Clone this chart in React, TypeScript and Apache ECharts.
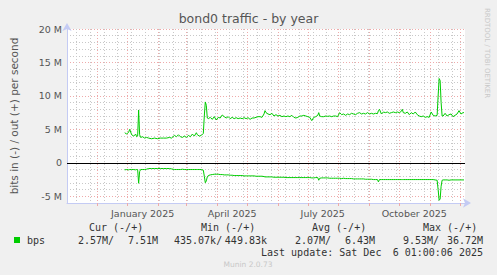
import React, { useEffect, useRef } from "react";
import * as echarts from "echarts";

// ---- categories: one per day, 2024-11-01 .. 2025-12-06 ----
const START_DATE = "2024-11-01";
const DAY_COUNT = 401;
const CATEGORIES: string[] = [];
{
  const t0 = Date.parse(START_DATE + "T00:00:00Z");
  for (let i = 0; i < DAY_COUNT; i++) {
    CATEGORIES.push(new Date(t0 + i * 86400000).toISOString().slice(0, 10));
  }
}

// ---- x tick labels (centred mid-month) ----
const X_LABEL_DATES = ["2025-01-16", "2025-04-16", "2025-07-16", "2025-10-16"];
const X_LABEL_TEXTS = ["January 2025", "April 2025", "July 2025", "October 2025"];

// ---- major (month) and minor (two-week) vertical grid dates ----
const MONTH_STARTS = [
  "2024-12-01", "2025-01-01", "2025-02-01", "2025-03-01", "2025-04-01", "2025-05-01",
  "2025-06-01", "2025-07-01", "2025-08-01", "2025-09-01", "2025-10-01", "2025-11-01", "2025-12-01",
];
const TWO_WEEKS = [
  "2024-11-10", "2024-11-24", "2024-12-08", "2024-12-22", "2025-01-05", "2025-01-19",
  "2025-02-02", "2025-02-16", "2025-03-02", "2025-03-16", "2025-03-30", "2025-04-13",
  "2025-04-27", "2025-05-11", "2025-05-25", "2025-06-08", "2025-06-22", "2025-07-06",
  "2025-07-20", "2025-08-03", "2025-08-17", "2025-08-31", "2025-09-14", "2025-09-28",
  "2025-10-12", "2025-10-26", "2025-11-09", "2025-11-23",
];

// ---- series: day offset (index into CATEGORIES), out (+) and in (-) in Mbit/s ----
const DATA_DAYS = [
  58, 60, 62, 63, 65, 67, 69, 70, 71, 72, 73, 74, 76, 78, 80, 82, 85, 88, 91, 94, 97, 100, 103, 105,
  108, 110, 112, 114, 116, 118, 120, 122, 124, 126, 128, 130, 131, 133, 135, 137, 138, 139, 140, 141,
  142, 144, 146, 148, 150, 152, 154, 156, 158, 160, 162, 164, 166, 168, 170, 172, 174, 176, 178, 180,
  182, 184, 186, 188, 190, 192, 194, 196, 198, 199, 200, 202, 204, 206, 208, 210, 212, 214, 216, 218,
  220, 222, 224, 226, 228, 230, 232, 234, 236, 238, 240, 242, 244, 246, 248, 250, 252, 253, 254, 256,
  258, 260, 262, 264, 266, 268, 270, 272, 274, 276, 278, 280, 282, 284, 286, 288, 290, 292, 294, 296,
  298, 300, 302, 304, 306, 308, 310, 312, 313, 314, 316, 318, 320, 322, 324, 326, 328, 330, 332, 334,
  336, 337, 338, 340, 342, 344, 346, 348, 350, 352, 354, 356, 358, 360, 362, 364, 366, 368, 370, 372,
  373, 374, 375, 376, 377, 378, 380, 382, 384, 386, 388, 390, 392, 394, 396, 398, 399,
];
const OUT_MBPS = [
  4.5, 4.3, 4.6, 5.0, 4.2, 4.0, 4.3, 3.9, 4.0, 7.9, 4.2, 3.8, 3.9, 3.7, 3.8, 3.7, 3.6, 3.7, 3.6, 3.7, 3.7, 3.7, 3.8, 3.7,
  4.1, 3.9, 4.2, 3.9, 3.8, 4.0, 3.8, 4.1, 3.9, 4.3, 4.0, 4.5, 4.2, 4.0, 4.1, 4.4, 7.0, 9.1, 8.6, 6.7,
  6.6, 6.8, 6.5, 6.9, 6.4, 6.8, 6.7, 7.15, 6.9, 6.7, 6.9, 6.6, 6.8, 6.6, 6.75, 6.6, 6.7, 6.6, 6.75, 6.6,
  6.75, 6.5, 6.7, 6.7, 6.8, 6.9, 6.9, 6.8, 7.3, 7.8, 7.5, 7.3, 7.2, 7.4, 7.0, 7.2, 7.0, 7.1, 6.9, 7.0,
  6.9, 7.0, 6.9, 7.1, 6.8, 6.7, 6.8, 7.0, 7.0, 7.1, 7.0, 6.9, 6.8, 6.3, 6.8, 6.9, 7.1, 7.5, 7.0, 6.9,
  6.9, 7.0, 6.95, 7.0, 6.9, 7.0, 7.0, 6.9, 7.5, 7.2, 7.3, 7.1, 7.3, 7.2, 7.4, 7.3, 7.2, 7.4, 7.5, 7.3,
  7.4, 7.3, 7.5, 7.3, 7.4, 7.3, 7.4, 7.35, 7.8, 8.0, 7.3, 7.6, 7.5, 7.6, 7.4, 7.5, 7.6, 7.5, 7.6, 7.5,
  7.7, 8.0, 7.5, 7.4, 7.6, 7.2, 7.5, 7.3, 7.6, 7.2, 7.0, 6.9, 7.0, 6.8, 6.9, 6.8, 7.6, 7.1, 7.0, 7.1,
  10.0, 12.6, 12.3, 9.0, 7.0, 7.0, 7.4, 7.0, 7.2, 7.3, 6.9, 7.1, 7.3, 7.8, 7.3, 7.5, 7.5,
];
const IN_MBPS = [
  -1.05, -1.0, -1.05, -1.0, -1.0, -1.0, -1.05, -1.0, -1.0, -3.05, -1.3, -1.0, -1.0, -1.0, -0.95, -0.85, -0.85, -0.85, -0.85, -0.85, -0.85, -0.85, -0.85, -0.9,
  -1.0, -1.0, -1.0, -1.0, -0.95, -1.0, -1.0, -1.0, -1.0, -1.0, -1.0, -1.0, -1.0, -1.0, -1.0, -1.1, -2.0, -2.97, -2.7, -2.1,
  -1.9, -1.8, -1.75, -1.7, -1.7, -1.7, -1.75, -1.75, -1.8, -1.8, -1.8, -1.85, -1.85, -1.9, -1.9, -1.9, -1.9, -1.9, -1.95, -1.95,
  -1.95, -1.95, -1.95, -1.95, -2.0, -2.0, -2.0, -2.0, -2.05, -2.1, -2.1, -2.1, -2.1, -2.1, -2.15, -2.15, -2.15, -2.15, -2.15, -2.15,
  -2.2, -2.2, -2.2, -2.2, -2.2, -2.2, -2.2, -2.2, -2.2, -2.2, -2.2, -2.2, -2.2, -2.25, -2.25, -2.2, -2.2, -2.6, -2.3, -2.25,
  -2.25, -2.25, -2.25, -2.3, -2.3, -2.3, -2.3, -2.3, -2.3, -2.35, -2.3, -2.35, -2.35, -2.35, -2.35, -2.4, -2.4, -2.4, -2.4, -2.4,
  -2.4, -2.45, -2.45, -2.45, -2.45, -2.5, -2.5, -2.5, -2.85, -2.5, -2.5, -2.5, -2.5, -2.5, -2.5, -2.5, -2.5, -2.5, -2.5, -2.5,
  -2.5, -2.5, -2.5, -2.5, -2.5, -2.5, -2.5, -2.5, -2.5, -2.5, -2.5, -2.5, -2.5, -2.5, -2.5, -2.5, -2.5, -2.5, -2.55, -2.6,
  -4.0, -5.6, -5.4, -3.5, -2.6, -2.55, -2.55, -2.55, -2.6, -2.55, -2.55, -2.55, -2.55, -2.55, -2.55, -2.55, -2.55,
];

// ---- y axis ----
const Y_MIN = -6e6;
const Y_MAX = 20e6;
const Y_MINOR_STEP = 1e6;

// ---- legend texts ----
const TITLE = "bond0 traffic - by year";
const Y_NAME = "bits in (-) / out (+) per second";
const SERIES_NAME = "bps";
const LEGEND_HEADERS = ["Cur (-/+)", "Min (-/+)", "Avg (-/+)", "Max (-/+)"];
const LEGEND_IN = ["2.57M/", "435.07k/", "2.07M/", "9.53M/"];
const LEGEND_OUT = ["7.51M", "449.83k", "6.43M", "36.72M"];
const LAST_UPDATE_A = "Last update: Sat Dec";
const LAST_UPDATE_B = "6 01:00:06 2025";
const WATERMARK = "RRDTOOL / TOBI OETIKER";
const FOOTER = "Munin 2.0.73";

const GREEN = "#00cc00";
const AXIS_BLUE = "#c4cbf4";
const MINOR = "#c8c8c8";
const MAJOR = "#eeaaaa";
const MONO = '"DejaVu Sans Mono", monospace';
const SANS = '"DejaVu Sans", sans-serif';

export default function App() {
  const ref = useRef<HTMLDivElement>(null);
  useEffect(() => {
    if (!ref.current) return;
    const chart = echarts.init(ref.current, undefined, { renderer: "svg" });
    const grid = { left: 65, top: 29, width: 400, height: 174 };
    const monthSet = new Set(MONTH_STARTS);
    const weekSet = new Set(TWO_WEEKS);
    const labelMap: Record<string, string> = {};
    X_LABEL_DATES.forEach((d, i) => (labelMap[d] = X_LABEL_TEXTS[i]));

    const hiddenCat = (extra: any) => ({
      type: "category",
      data: CATEGORIES,
      boundaryGap: false,
      position: "bottom",
      axisLine: { show: false },
      axisLabel: { show: false },
      ...extra,
    });

    const legendCols = [
      { hx: 89, inX: 78, outR: 158 },
      { hx: 201, inX: 174, outR: 267 },
      { hx: 312, inX: 295, outR: 375 },
      { hx: 423, inX: 403, outR: 483 },
    ];
    const txt = (text: string, x: number, y: number, align: string, font: string, fill: string) => ({
      type: "text",
      x,
      y,
      silent: true,
      style: { text, align, verticalAlign: "middle", font, fill },
    });
    const graphics: any[] = [
      { type: "rect", shape: { x: 14, y: 237, width: 6, height: 6 }, style: { fill: GREEN }, silent: true },
      txt(SERIES_NAME, 27, 240, "left", `10px ${MONO}`, "#333"),
      txt(LAST_UPDATE_A, 261, 252, "left", `10px ${MONO}`, "#333"),
      txt(LAST_UPDATE_B, 483, 252, "right", `10px ${MONO}`, "#333"),
      txt(FOOTER, 248, 264, "center", `7.5px ${SANS}`, "#c8c8c8"),
      {
        type: "text",
        x: 487,
        y: 53,
        rotation: -Math.PI / 2,
        silent: true,
        style: { text: WATERMARK, align: "center", verticalAlign: "middle", font: `7px ${SANS}`, fill: "#c8c8c8" },
      },
    ];
    legendCols.forEach((c, i) => {
      graphics.push(txt(LEGEND_HEADERS[i], c.hx, 227, "left", `10px ${MONO}`, "#333"));
      graphics.push(txt(LEGEND_IN[i], c.inX, 240, "left", `10px ${MONO}`, "#333"));
      graphics.push(txt(LEGEND_OUT[i], c.outR, 240, "right", `10px ${MONO}`, "#333"));
    });

    chart.setOption({
      animation: false,
      backgroundColor: "#f0f0f0",
      title: {
        text: TITLE,
        left: "center",
        top: 12,
        padding: 0,
        textStyle: { fontFamily: SANS, fontSize: 12.5, fontWeight: "normal", color: "#555" },
      },
      grid: { ...grid, show: true, backgroundColor: "#ffffff", borderWidth: 0 },
      xAxis: [
        hiddenCat({
          axisTick: { show: true, interval: (_: number, v: string) => weekSet.has(v), length: 2, lineStyle: { color: MINOR } },
          splitLine: { show: true, interval: (_: number, v: string) => weekSet.has(v), lineStyle: { color: MINOR, type: [1, 2], width: 1 } },
        }),
        hiddenCat({
          axisTick: { show: true, interval: (_: number, v: string) => monthSet.has(v), length: 3, lineStyle: { color: MAJOR } },
          splitLine: { show: true, interval: (_: number, v: string) => monthSet.has(v), lineStyle: { color: MAJOR, type: [1, 2], width: 1 } },
        }),
        {
          type: "category",
          data: CATEGORIES,
          boundaryGap: false,
          position: "bottom",
          axisLine: {
            show: true,
            lineStyle: { color: AXIS_BLUE, width: 1 },
            symbol: ["none", "arrow"],
            symbolSize: [7, 8],
            symbolOffset: [0, 6],
          },
          axisTick: { show: false },
          splitLine: { show: false },
          axisLabel: {
            show: true,
            interval: (_: number, v: string) => v in labelMap,
            formatter: (v: string) => labelMap[v] ?? "",
            color: "#555",
            fontFamily: SANS,
            fontSize: 9.5,
            margin: 5,
          },
        },
      ],
      yAxis: {
        type: "value",
        min: Y_MIN,
        max: Y_MAX,
        interval: Y_MINOR_STEP,
        name: Y_NAME,
        nameLocation: "middle",
        nameGap: 48,
        nameTextStyle: { fontFamily: SANS, fontSize: 10.5, color: "#555" },
        axisLine: {
          show: true,
          lineStyle: { color: AXIS_BLUE, width: 1 },
          symbol: ["none", "arrow"],
          symbolSize: [7, 8],
          symbolOffset: [0, 6],
        },
        axisTick: { show: false },
        axisLabel: {
          color: "#555",
          fontFamily: SANS,
          fontSize: 9.5,
          margin: 5,
          formatter: (v: number) => (v % 5e6 === 0 ? (v === 0 ? "0" : `${v / 1e6} M`) : ""),
        },
        splitLine: {
          show: true,
          lineStyle: { color: [MINOR, MAJOR, MINOR, MINOR, MINOR], type: [1, 2], width: 1 },
        },
      },
      series: [
        {
          type: "line",
          name: "out",
          xAxisIndex: 2,
          data: DATA_DAYS.map((d, i) => [CATEGORIES[d], OUT_MBPS[i] * 1e6]),
          showSymbol: false,
          lineStyle: { color: GREEN, width: 1 },
          itemStyle: { color: GREEN },
          markLine: {
            silent: true,
            symbol: "none",
            label: { show: false },
            lineStyle: { color: "#000", type: "solid", width: 1 },
            data: [{ yAxis: 0 }],
          },
          z: 5,
        },
        {
          type: "line",
          name: "in",
          xAxisIndex: 2,
          data: DATA_DAYS.map((d, i) => [CATEGORIES[d], IN_MBPS[i] * 1e6]),
          showSymbol: false,
          lineStyle: { color: GREEN, width: 1 },
          itemStyle: { color: GREEN },
          z: 5,
        },
      ],
      graphic: graphics,
    });
    return () => chart.dispose();
  }, []);
  return (
    <div
      ref={ref}
      style={{ position: "fixed", left: 0, top: 0, width: 497, height: 275, background: "#f0f0f0" }}
    />
  );
}
